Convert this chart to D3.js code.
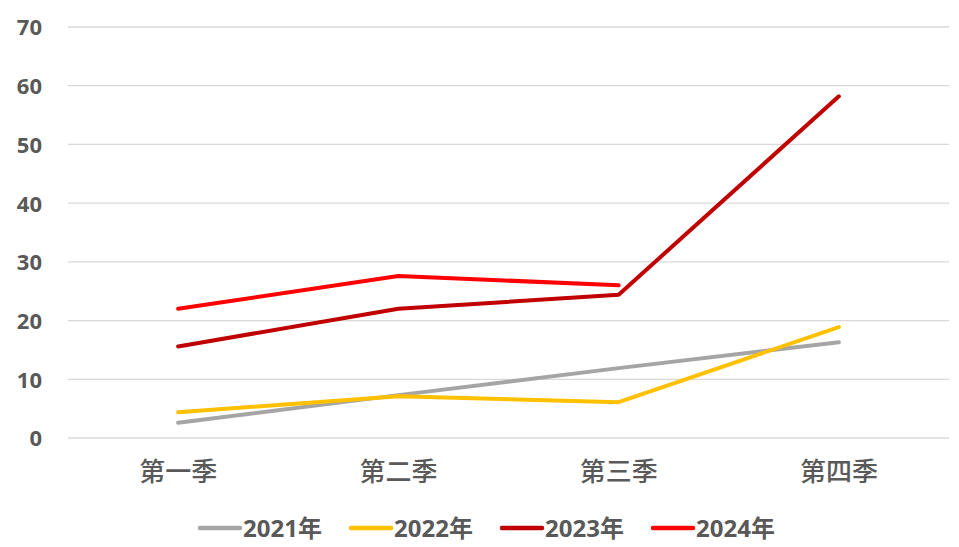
<!DOCTYPE html>
<html>
<head>
<meta charset="utf-8">
<script src="https://cdn.jsdelivr.net/npm/d3@7"></script>
<style>
  html, body { margin: 0; padding: 0; background: #fff; }
  svg { display: block; }
</style>
</head>
<body>
<svg id="chart" width="959" height="547"></svg>
<script>
const categories = ["第一季", "第二季", "第三季", "第四季"];
const yTicks = [0, 10, 20, 30, 40, 50, 60, 70];
const seriesNames = ["2021年", "2022年", "2023年", "2024年"];
const seriesColors = ["#A5A5A5", "#FFC000", "#C00000", "#FF0000"];
const values2021 = [2.6, 7.3, 11.9, 16.3];
const values2022 = [4.4, 7.1, 6.1, 18.9];
const values2023 = [15.6, 22.0, 24.4, 58.2];
const values2024 = [22.0, 27.6, 26.0, null];
const seriesValues = [values2021, values2022, values2023, values2024];

const svg = d3.select("#chart");
const margin = { left: 68, right: 10, top: 27, bottom: 109 };
const W = 959, H = 547;

const x = d3.scaleBand().domain(categories).range([margin.left, W - margin.right]);
const y = d3.scaleLinear().domain([0, 70]).range([H - margin.bottom, margin.top]);

const numFont = "'Noto Sans', 'Noto Sans CJK SC', sans-serif";
const cjkFont = "'Noto Sans CJK SC', 'Noto Sans', sans-serif";
const textColor = "#595959";

// gridlines
svg.append("g")
  .selectAll("line")
  .data(yTicks)
  .join("line")
  .attr("x1", margin.left)
  .attr("x2", W - margin.right)
  .attr("y1", d => y(d))
  .attr("y2", d => y(d))
  .attr("stroke", "#D9D9D9")
  .attr("stroke-width", 1.3);

// y axis labels
const yAxis = d3.axisLeft(y).tickValues(yTicks).tickSize(0).tickPadding(0);
const yG = svg.append("g")
  .attr("transform", `translate(42,0)`)
  .call(yAxis);
yG.select(".domain").remove();
yG.selectAll("text")
  .attr("font-family", numFont)
  .attr("font-size", 22)
  .attr("font-weight", "bold")
  .attr("fill", textColor)
  .attr("dy", "0.36em");

// x axis labels
const xAxis = d3.axisBottom(x).tickSize(0).tickPadding(0);
const xG = svg.append("g")
  .attr("transform", `translate(0,${H - margin.bottom})`)
  .call(xAxis);
xG.select(".domain").remove();
xG.selectAll("text")
  .attr("font-family", cjkFont)
  .attr("font-size", 26)
  .attr("font-weight", 500)
  .attr("fill", textColor)
  .attr("y", 34)
  .attr("dy", "0.36em");

// lines
const line = d3.line()
  .defined(d => d.v !== null)
  .x(d => x(d.c) + x.bandwidth() / 2)
  .y(d => y(d.v));

seriesValues.forEach((vals, i) => {
  const data = categories.map((c, j) => ({ c, v: vals[j] }));
  svg.append("path")
    .datum(data)
    .attr("d", line)
    .attr("fill", "none")
    .attr("stroke", seriesColors[i])
    .attr("stroke-width", 4)
    .attr("stroke-linecap", "round")
    .attr("stroke-linejoin", "round");
});

// legend
const legendY = 528;
const legend = svg.append("g");
seriesNames.forEach((name, i) => {
  const gx = 200 + i * 151;
  const g = legend.append("g").attr("transform", `translate(${gx},${legendY})`);
  g.append("line")
    .attr("x1", 0).attr("x2", 40)
    .attr("y1", 0).attr("y2", 0)
    .attr("stroke", seriesColors[i])
    .attr("stroke-width", 4.5)
    .attr("stroke-linecap", "round");
  g.append("text")
    .attr("x", 43)
    .attr("y", 0)
    .attr("dy", "0.36em")
    .attr("font-family", numFont)
    .attr("font-size", 24)
    .attr("font-weight", "bold")
    .attr("fill", textColor)
    .text(name);
});
</script>
</body>
</html>
